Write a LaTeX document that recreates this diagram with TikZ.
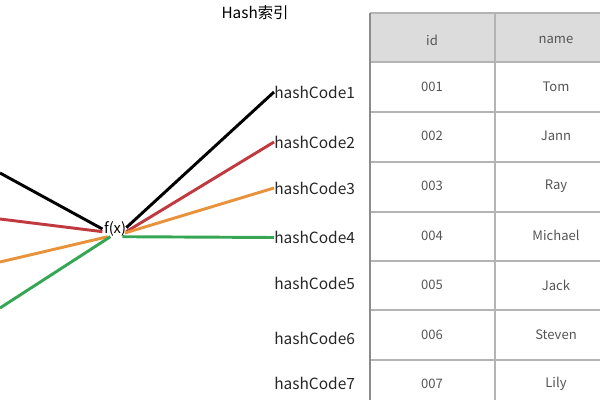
\documentclass[tikz,border=0pt]{standalone}
\usepackage{fontspec}
\setmainfont{Noto Sans CJK SC}
\usepackage{tikz}

\definecolor{hashred}{HTML}{C0393F}
\definecolor{hashorange}{HTML}{E8923C}
\definecolor{hashgreen}{HTML}{35A653}
\definecolor{cellgrey}{HTML}{DCDCDC}
\definecolor{gridgrey}{HTML}{B4B4B4}
\definecolor{celltext}{HTML}{555555}

\tikzset{
    hashline/.style={line width=2.2pt},
    codelabel/.style={anchor=west, inner sep=0pt, font=\fontsize{11.6}{13}\selectfont, text=black!85},
    celllabel/.style={inner sep=0pt, font=\fontsize{9.8}{11}\selectfont, text=celltext}
}

\begin{document}
\begin{tikzpicture}[x=0.75pt, y=-0.75pt]
        \useasboundingbox (0,0) rectangle (600,400);
        \clip (0,0) rectangle (600,400);
        % title and hash function
        \node[inner sep=0pt, font=\fontsize{11.5}{13}\selectfont] (title) at (255,13) {Hash索引};
        \node[inner sep=0pt, font=\fontsize{11}{13}\selectfont] (fx) at (115,229) {f(x)};
        % hash codes
        \node[codelabel] (hc1) at (274,92) {hashCode1};
        \node[codelabel] (hc2) at (274,142) {hashCode2};
        \node[codelabel] (hc3) at (274,188) {hashCode3};
        \node[codelabel] (hc4) at (274,237.5) {hashCode4};
        \node[codelabel] (hc5) at (274,283) {hashCode5};
        \node[codelabel] (hc6) at (274,338) {hashCode6};
        \node[codelabel] (hc7) at (274,383) {hashCode7};
        % keys coming in from the left
        \coordinate (k1) at (0,173);
        \coordinate (k2) at (0,219);
        \coordinate (k3) at (0,262);
        \coordinate (k4) at (0,308);
        \draw [hashline, black] (k1) -- ([xshift=-1pt]fx.west);
        \draw [hashline, hashred] (k2) -- ([xshift=-1pt,yshift=-2pt]fx.west);
        \draw [hashline, hashorange] (k3) -- ([xshift=3pt]fx.south west);
        \draw [hashline, hashgreen] (k4) -- ([xshift=5pt]fx.south west);
        \draw [hashline, black] ([yshift=1pt]fx.east) -- (hc1.west);
        \draw [hashline, hashred] ([yshift=-2pt]fx.east) -- (hc2.west);
        \draw [hashline, hashorange] ([xshift=-1pt,yshift=-3pt]fx.east) -- (hc3.west);
        \draw [hashline, hashgreen] ([xshift=-3pt]fx.south east) -- (hc4.west);
        % table
        \fill [cellgrey] (370,13) rectangle (620,62);
        \foreach \y in {62,112,162,212,261,310,360}
            \draw [gridgrey, line width=0.8pt] (370,\y) -- (620,\y);
        \draw [gridgrey, line width=0.8pt] (370,13) -- (620,13);
        \draw [gridgrey, line width=0.8pt] (495,13) -- (495,400);
        \draw [black!45, line width=1.6pt] (370,13) -- (370,400);
        \node[celllabel] (hid) at (432,40) {id};
        \node[celllabel] (hname) at (556,40) {name};
        \foreach \id/\nm [count=\i] in {001/Tom,002/Jann,003/Ray,004/Michael,005/Jack,006/Steven,007/Lily} {
            \node[celllabel] (id\i) at (432,{37+49.6*\i}) {\id};
            \node[celllabel] (name\i) at (556,{37+49.6*\i}) {\nm};
        }
    \end{tikzpicture}
\end{document}
